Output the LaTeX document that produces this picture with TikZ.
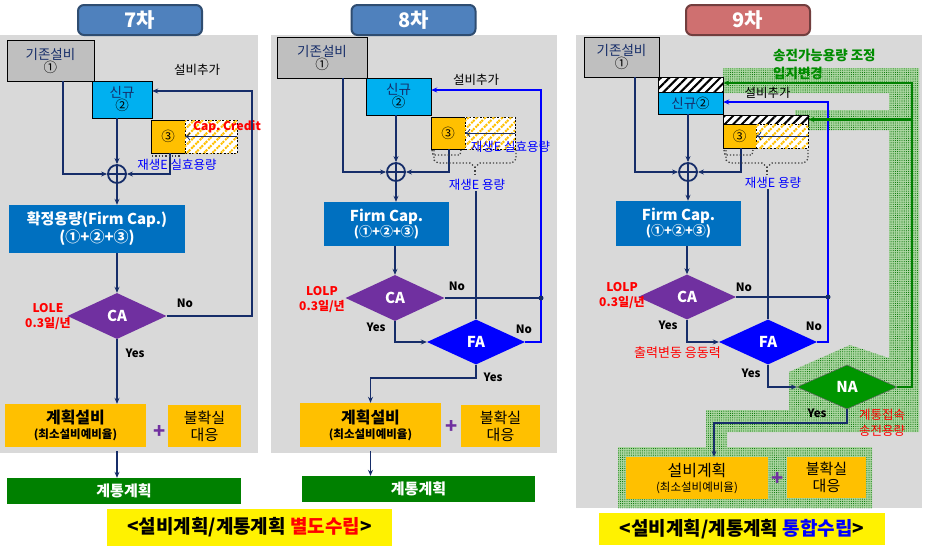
\documentclass[tikz,border=0pt]{standalone}
\usepackage{fontspec}
\setmainfont{Noto Sans CJK KR}
\usetikzlibrary{shapes.geometric,arrows.meta,patterns.meta}
\definecolor{navyline}{RGB}{22,45,105}
\definecolor{oldgray}{RGB}{191,191,191}
\definecolor{panelgray}{RGB}{217,217,217}
\definecolor{newcyan}{RGB}{0,176,240}
\definecolor{gold}{RGB}{255,192,0}
\definecolor{firmblue}{RGB}{0,112,192}
\definecolor{capurple}{RGB}{112,48,160}
\definecolor{gridgreen}{RGB}{0,128,0}
\definecolor{nagreen}{RGB}{0,150,0}
\definecolor{titleblue}{RGB}{79,129,189}
\definecolor{titlerose}{RGB}{207,112,112}
\definecolor{pureblue}{RGB}{0,0,255}
\definecolor{redtext}{RGB}{255,0,0}
\definecolor{textgreen}{RGB}{0,140,0}
\definecolor{dotgreen}{RGB}{172,214,162}

\begin{document}
\begin{tikzpicture}[x=1pt,y=-1pt,
  rbox/.style={rectangle,inner sep=0pt,align=center,font=\fontsize{13.5}{15}\selectfont},
  cond/.style={diamond,inner sep=0pt,text=white,font=\bfseries\fontsize{15}{17}\selectfont},
  ttl/.style={rectangle,rounded corners=6pt,line width=2pt,minimum width=124,minimum height=30,
    text=white,font=\bfseries\fontsize{20}{22}\selectfont},
  conn/.style={navyline,line width=1.8pt},
  arr/.style={conn,-{Stealth[length=6pt,width=5pt]}},
  bline/.style={pureblue,line width=1.8pt,-{Stealth[length=6pt,width=5pt]}},
  garr/.style={gridgreen,line width=2.2pt,-{Stealth[length=6pt,width=5pt]}},
  thinarr/.style={navyline,line width=.8pt,-{To[length=5pt,width=8pt]}},
  dotbr/.style={black!75,line width=1.3pt,dotted},
  sumc/.style={circle,draw=navyline,line width=1.8pt,minimum size=18,inner sep=0pt,
    path picture={\draw[navyline,line width=1.5pt]
      (path picture bounding box.north) -- (path picture bounding box.south)
      (path picture bounding box.west) -- (path picture bounding box.east);}},
  hatchy/.style={rectangle,draw=black,dash pattern=on 2pt off 1.5pt,line width=.6pt,fill=white,
    postaction={pattern={Lines[angle=45,distance=6pt,line width=2pt]},pattern color=gold}},
  hatchk/.style={rectangle,draw=black,line width=.6pt,fill=white,
    postaction={pattern={Lines[angle=45,distance=6pt,line width=2pt]},pattern color=black}},
  yn/.style={font=\bfseries\fontsize{11.5}{13}\selectfont,inner sep=0pt},
  redtxt/.style={text=redtext,align=center,inner sep=0pt,font=\bfseries\fontsize{12}{15}\selectfont},
  bluetxt/.style={text=pureblue,inner sep=0pt,font=\fontsize{12.5}{14}\selectfont},
  darktxt/.style={inner sep=0pt,font=\fontsize{12.5}{14}\selectfont},
  plusmark/.style={text=capurple,inner sep=0pt,font=\bfseries\fontsize{20}{20}\selectfont},
  banner/.style={rectangle,fill=yellow,inner sep=0pt,font=\bfseries\fontsize{19}{21}\selectfont}]

  \useasboundingbox (0,0) rectangle (932,552);

  % 7차
  \fill[panelgray] (0,35) rectangle (258,453);
  \node[ttl,fill=titleblue,draw=titleblue!60!black] (t7) at (140,20) {7차};
  \node[rbox,fill=oldgray,draw,minimum width=87,minimum height=41,text=navyline] (old7) at (50.5,60.5) {기존설비\\[-2pt]\textcolor{black}{①}};
  \node[rbox,fill=newcyan,draw,minimum width=60,minimum height=37,text=navyline] (new7) at (122,99.5) {신규\\[-2pt]\textcolor{black}{②}};
  \node[rbox,fill=gold,draw,minimum width=34,minimum height=33] (re7) at (168,136.5) {③};
  \node[hatchy,minimum width=52,minimum height=33] (cc7) at (211,136.5) {};
  \node[redtxt] (cct7) at (227,127) {Cap.\ Credit};
  \node[bluetxt] (eff7) at (177,165) {재생E 실효용량};
  \node[sumc] (sum7) at (117,174) {};
  \node[darktxt] (add7) at (197,70) {설비추가};
  \node[rbox,fill=firmblue,text=white,minimum width=176,minimum height=48,font=\bfseries\fontsize{15}{18}\selectfont] (firm7) at (97,229) {확정용량(Firm Cap.)\\(①+②+③)};
  \node[cond,fill=capurple,minimum width=99,minimum height=46] (ca7) at (117,316) {CA};
  \node[redtxt] (lole7) at (48,317) {LOLE\\0.3일/년};
  \node[yn] (no7) at (185,303) {No};
  \node[yn] (yes7) at (135,353) {Yes};
  \node[rbox,fill=gold,minimum width=141,minimum height=43] (plan7) at (75.5,425.5) {{\bfseries\fontsize{16}{18}\selectfont 계획설비}\\{\bfseries\fontsize{11.5}{14}\selectfont (최소설비예비율)}};
  \node[plusmark] (plus7) at (160,432) {+};
  \node[rbox,fill=gold,minimum width=73,minimum height=42,font=\fontsize{15}{17}\selectfont] (unc7) at (204.5,426) {불확실\\대응};
  \node[rbox,fill=gridgreen,text=white,minimum width=234,minimum height=26,font=\bfseries\fontsize{15}{17}\selectfont] (grid7) at (124,491) {계통계획};
  \node[banner,minimum width=285,minimum height=37] (ban7) at (249.5,527.5) {<설비계획/계통계획 \textcolor{redtext}{별도수립}>};

  \coordinate (fb7) at (252,91);
  \draw[arr] ([xshift=12.5pt]old7.south) |- (sum7.west);
  \draw[arr] (new7.south -| sum7) -- (sum7.north);
  \draw[arr] ([xshift=2pt]re7.south) |- (sum7.east);
  \draw[arr] (sum7.south) -- (sum7 |- firm7.north);
  \draw[arr] (firm7.south -| ca7) -- (ca7.north);
  \draw[arr] (ca7.south) -- (ca7 |- plan7.north);
  \draw[arr,shorten <=4pt] (ca7 |- plan7.south) -- (ca7 |- grid7.north);
  \draw[arr] (ca7.east) -| (fb7) -- (fb7 -| new7.east);
  \draw[thinarr] (cc7.east) -- (re7.east);
  \draw[dotbr] (152,156) -- (180,156);

  % 8차
  \fill[panelgray] (271,35) rectangle (557,453);
  \node[ttl,fill=titleblue,draw=titleblue!60!black] (t8) at (413.5,20) {8차};
  \node[rbox,fill=oldgray,draw,minimum width=90,minimum height=41,text=navyline] (old8) at (322,57.5) {기존설비\\[-2pt]\textcolor{black}{①}};
  \node[rbox,fill=newcyan,draw,minimum width=65,minimum height=37,text=navyline] (new8) at (398.5,96.5) {신규\\[-2pt]\textcolor{black}{②}};
  \node[rbox,fill=gold,draw,minimum width=34,minimum height=32] (re8) at (448,133) {③};
  \node[hatchy,minimum width=50,minimum height=32] (cc8) at (490,133) {};
  \node[bluetxt] (eff8) at (510.5,147) {재생E 실효용량};
  \node[darktxt] (add8) at (476,80) {설비추가};
  \node[sumc] (sum8) at (396,172) {};
  \node[bluetxt] (ren8) at (477,185) {재생E 용량};
  \node[rbox,fill=firmblue,text=white,minimum width=125,minimum height=44] (firm8) at (386.5,224) {{\bfseries\fontsize{15}{17}\selectfont Firm Cap.}\\{\bfseries\fontsize{13}{15}\selectfont (①+②+③)}};
  \node[cond,fill=capurple,minimum width=99,minimum height=46] (ca8) at (395,298) {CA};
  \node[cond,fill=pureblue,minimum width=98,minimum height=45] (fa8) at (476,342) {FA};
  \node[redtxt] (lolp8) at (322,300) {LOLP\\0.3일/년};
  \node[yn] (no8a) at (457,286) {No};
  \node[yn] (no8b) at (524,329) {No};
  \node[yn] (yes8a) at (376,327) {Yes};
  \node[yn] (yes8b) at (493,377) {Yes};
  \node[rbox,fill=gold,minimum width=141,minimum height=44] (plan8) at (370.5,425) {{\bfseries\fontsize{16}{18}\selectfont 계획설비}\\{\bfseries\fontsize{11.5}{14}\selectfont (최소설비예비율)}};
  \node[plusmark] (plus8) at (452,427) {+};
  \node[rbox,fill=gold,minimum width=79,minimum height=42,font=\fontsize{15}{17}\selectfont] (unc8) at (500.5,426) {불확실\\대응};
  \node[rbox,fill=gridgreen,text=white,minimum width=233,minimum height=26,font=\bfseries\fontsize{15}{17}\selectfont] (grid8) at (418.5,489) {계통계획};

  \coordinate (fb8) at (541,90);
  \draw[arr] ([xshift=21pt]old8.south) |- (sum8.west);
  \draw[arr] (new8.south -| sum8) -- (sum8.north);
  \draw[arr] ([xshift=1pt]re8.south) |- (sum8.east);
  \draw[arr] (sum8.south) -- (sum8 |- firm8.north);
  \draw[arr] (firm8.south -| ca8) -- (ca8.north);
  \draw[conn] (ren8.south -| fa8) -- (fa8.north);
  \draw[bline] (fa8.east) -| (fb8) -- (fb8 -| new8.east);
  \draw[conn] (ca8.east) -- (ca8.east -| fb8);
  \fill[navyline] (ca8.east -| fb8) circle (2.5pt);
  \draw[arr] (ca8.south) |- (fa8.west);
  \draw[arr] (fa8.south) -- ++(0,13) -| (plan8.north);
  \draw[arr,shorten <=4pt] (plan8.south) -- (plan8.south |- grid8.north);
  \draw[thinarr] (cc8.east) -- (re8.east);

  % 9차
  \fill[panelgray] (576,35) rectangle (922,508);
  \fill[dotgreen] (723,68) -- (919,68) -- (919,432) -- (727,432) -- (727,447) -- (872,447)
    -- (872,508) -- (618,508) -- (618,447) -- (706,447) -- (706,410) -- (789,410) -- (789,372)
    -- (850,345) -- (889,358) -- (889,130) -- (795,130) -- (795,110) -- (889,110) -- (889,93)
    -- (723,93) -- cycle;
  \fill[pattern={Dots[distance=2.2pt,radius=.55pt]},pattern color=green!45!black]
    (723,68) -- (919,68) -- (919,432) -- (727,432) -- (727,447) -- (872,447)
    -- (872,508) -- (618,508) -- (618,447) -- (706,447) -- (706,410) -- (789,410) -- (789,372)
    -- (850,345) -- (889,358) -- (889,130) -- (795,130) -- (795,110) -- (889,110) -- (889,93)
    -- (723,93) -- cycle;
  \node[ttl,fill=titlerose,draw=titlerose!55!black] (t9) at (748,20) {9차};
  \node[rbox,fill=oldgray,draw,minimum width=75,minimum height=40,text=navyline] (old9) at (621.5,57) {기존설비\\[-2pt]\textcolor{black}{①}};
  \node[hatchk,minimum width=65,minimum height=15] (newh9) at (690.5,84.5) {};
  \node[rbox,fill=newcyan,draw,minimum width=65,minimum height=22,text=navyline] (new9) at (690.5,103) {신규\textcolor{black}{②}};
  \node[hatchk,minimum width=85,minimum height=9] (reh9) at (765.5,119.5) {};
  \node[rbox,fill=gold,draw,minimum width=33,minimum height=24] (re9) at (739.5,136) {③};
  \node[hatchy,minimum width=52,minimum height=24] (cc9) at (782,136) {};
  \node[text=textgreen,anchor=west,align=left,inner sep=0pt,font=\bfseries\fontsize{13.5}{18}\selectfont] (tc9) at (773,64) {송전가능용량 조정\\입지변경};
  \node[darktxt] (add9) at (767.5,93) {설비추가};
  \node[bluetxt] (ren9) at (773,183) {재생E 용량};
  \node[sumc] (sum9) at (688,172) {};
  \node[rbox,fill=firmblue,text=white,minimum width=125,minimum height=45] (firm9) at (678.5,223.5) {{\bfseries\fontsize{15}{17}\selectfont Firm Cap.}\\{\bfseries\fontsize{13}{15}\selectfont (①+②+③)}};
  \node[cond,fill=capurple,minimum width=98,minimum height=45] (ca9) at (687,297) {CA};
  \node[cond,fill=pureblue,minimum width=98,minimum height=45] (fa9) at (768,342) {FA};
  \node[cond,fill=nagreen,draw=black!60,line width=.5pt,minimum width=100,minimum height=44] (na9) at (847,387) {NA};
  \node[redtxt] (lolp9) at (622,296) {LOLP\\0.3일/년};
  \node[redtxt,font=\fontsize{13}{15}\selectfont] (resp9) at (677.5,353) {출력변동 응동력};
  \node[redtxt,font=\fontsize{12.5}{16}\selectfont] (tie9) at (882,423) {계통접속\\송전용량};
  \node[yn] (no9a) at (744,287) {No};
  \node[yn] (no9b) at (814,326) {No};
  \node[yn] (yes9a) at (668,325) {Yes};
  \node[yn] (yes9b) at (751,373) {Yes};
  \node[yn] (yes9c) at (817,413) {Yes};
  \node[rbox,fill=gold,minimum width=142,minimum height=42] (plan9) at (697,478) {{\fontsize{16}{18}\selectfont 설비계획}\\{\fontsize{11.5}{14}\selectfont (최소설비예비율)}};
  \node[plusmark] (plus9) at (778,479) {+};
  \node[rbox,fill=gold,minimum width=79,minimum height=41,font=\fontsize{15}{17}\selectfont] (unc9) at (826.5,477.5) {불확실\\대응};
  \node[banner,minimum width=286,minimum height=32] (ban9) at (742,529) {<설비계획/계통계획 \textcolor{pureblue}{통합수립}>};

  \coordinate (fb9) at (828,102);
  \coordinate (gn9) at (912,83);
  \coordinate (ny9) at (714,423);
  \draw[arr] ([xshift=13.5pt]old9.south) |- (sum9.west);
  \draw[arr] (new9.south -| sum9) -- (sum9.north);
  \draw[arr] ([xshift=1.5pt]re9.south) |- (sum9.east);
  \draw[arr] (sum9.south) -- (sum9 |- firm9.north);
  \draw[arr] (firm9.south -| ca9) -- (ca9.north);
  \draw[conn] (ren9.south -| fa9) -- (fa9.north);
  \draw[bline] (fa9.east) -| (fb9) -- (fb9 -| new9.east);
  \draw[conn] (ca9.east) -- (ca9.east -| fb9);
  \fill[navyline] (ca9.east -| fb9) circle (2.5pt);
  \draw[arr] (ca9.south) |- (fa9.west);
  \draw[arr] (fa9.south) |- (na9.west);
  \draw[garr] (na9.east) -| (gn9) -- (gn9 -| newh9.east);
  \draw[garr] (gn9 |- reh9.east) -- (reh9.east);
  \draw[arr] (na9.south) |- (ny9) -- (ny9 |- plan9.north);
  \draw[thinarr] (cc9.east) -- (re9.east);

  \foreach \dx in {0,292} {
    \begin{scope}[xshift=\dx pt]
      \draw[dotbr] (432,150) -- (433,155) -- (460,155) -- (461,150);
      \draw[dotbr] (434,150) -- (434,160) -- (438,163) -- (470,163) -- (475,167) -- (480,163)
        -- (512,163) -- (516,159) -- (516,150);
      \draw[dotbr] (475,167) -- (475,174);
    \end{scope}
  }
\end{tikzpicture}
\end{document}
